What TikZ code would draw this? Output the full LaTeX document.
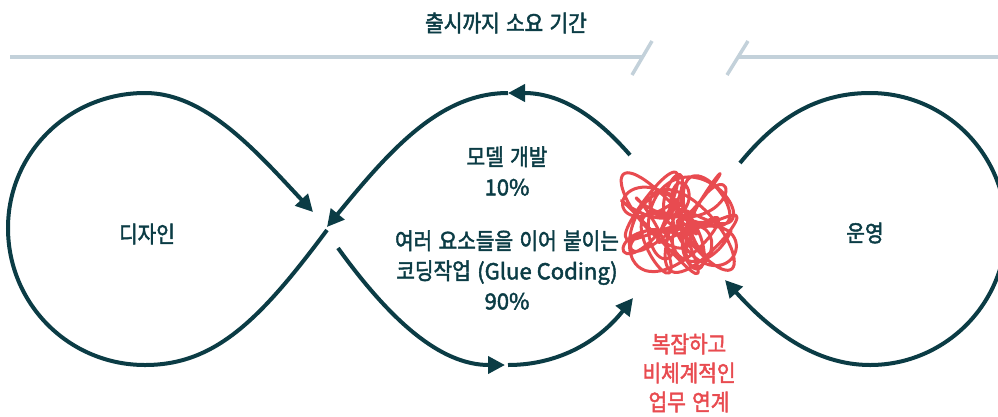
\documentclass[tikz,border=0pt]{standalone}
\usepackage{fontspec}
\setmainfont{Noto Sans CJK KR}[FakeStretch=0.88,WordSpace=1.4,FakeBold=2]
\newfontfamily\latinfont{Noto Sans CJK KR}[Scale=0.96,FakeBold=2]
\usetikzlibrary{arrows.meta}
\definecolor{ink}{HTML}{0B3C45}
\definecolor{rulegray}{HTML}{C3D1DA}
\definecolor{alert}{HTML}{E84B50}

\begin{document}
\begin{tikzpicture}[
  x=1pt, y=-1pt,
  font=\fontsize{23}{30}\selectfont,
  lbl/.style     ={text=ink, align=center, inner sep=0pt},
  messlbl/.style ={lbl, text=alert, font=\fontsize{23}{29}\selectfont},
  ring/.style    ={ink, line width=4pt},
  flow/.style    ={ring, -{Triangle[length=17pt,width=17pt]}},
  timeline/.style={rulegray, line width=3.5pt},
  tangle/.style  ={alert, line width=3pt, line cap=round, line join=round}
]
\useasboundingbox (0,0) rectangle (998,416);

% time axis with a break
\node[lbl] (title) at (506,23) {출시까지 소요 기간};
\draw[timeline] (10,57) -- (643,57);
\draw[timeline] (652,41) -- (632,75);
\draw[timeline] (748,41) -- (727,75);
\draw[timeline] (738,57) -- (998,57);

\node[lbl] (design) at (147,234) {디자인};
\node[lbl] (ops)    at (865,233) {운영};
\node[lbl] (model)  at (507,171) {모델 개발\\{\latinfont 10\%}};
\node[lbl] (glue)   at (507,270)
      {여러 요소들을 이어 붙이는\\코딩작업 {\latinfont (Glue Coding)}\\{\latinfont 90\%}};
\node[messlbl] (messlbl) at (689,373) {복잡하고\\비체계적인\\업무 연계};

\coordinate (dOut)  at (327,230);
\coordinate (dIn)   at (313,212);
\coordinate (mTop)  at (508,93);
\coordinate (mIn)   at (327,227);
\coordinate (gOut)  at (338,248);
\coordinate (gBot)  at (505,365);
\coordinate (gBot2) at (508,365);
\coordinate (xOut)  at (630,155);
\coordinate (xIn)   at (633,298);
\coordinate (oOut)  at (740,163);
\coordinate (oIn)   at (725,280);

% design loop
\draw[flow] (dOut) .. controls (260,320) and (215,365) .. (145,365)
  .. controls (69,365) and (8,304) .. (8,228)
  .. controls (8,153) and (69,93) .. (145,93)
  .. controls (205,93) and (255,150) .. (dIn);

% model / glue loop
\draw[flow] (xOut) .. controls (595,115) and (560,93) .. (mTop);
\draw[flow] (mTop) .. controls (440,93) and (390,150) .. (mIn);
\draw[flow] (gOut) .. controls (390,320) and (440,365) .. (gBot);
\draw[flow] (gBot2) .. controls (560,365) and (600,340) .. (xIn);

% operations loop
\draw[flow] (oOut) .. controls (775,120) and (815,93) .. (870,93)
  .. controls (945,93) and (1006,154) .. (1006,229)
  .. controls (1006,304) and (945,365) .. (870,365)
  .. controls (815,365) and (770,330) .. (oIn);

% tangled hand-off
\draw[tangle] plot[smooth, domain=0:2880, samples=480, variable=\t]
  ({679+33*cos(\t)+25*cos(2.7*\t+40)}, {223+29*sin(1.3*\t)+22*sin(3.1*\t+20)});
\end{tikzpicture}
\end{document}
